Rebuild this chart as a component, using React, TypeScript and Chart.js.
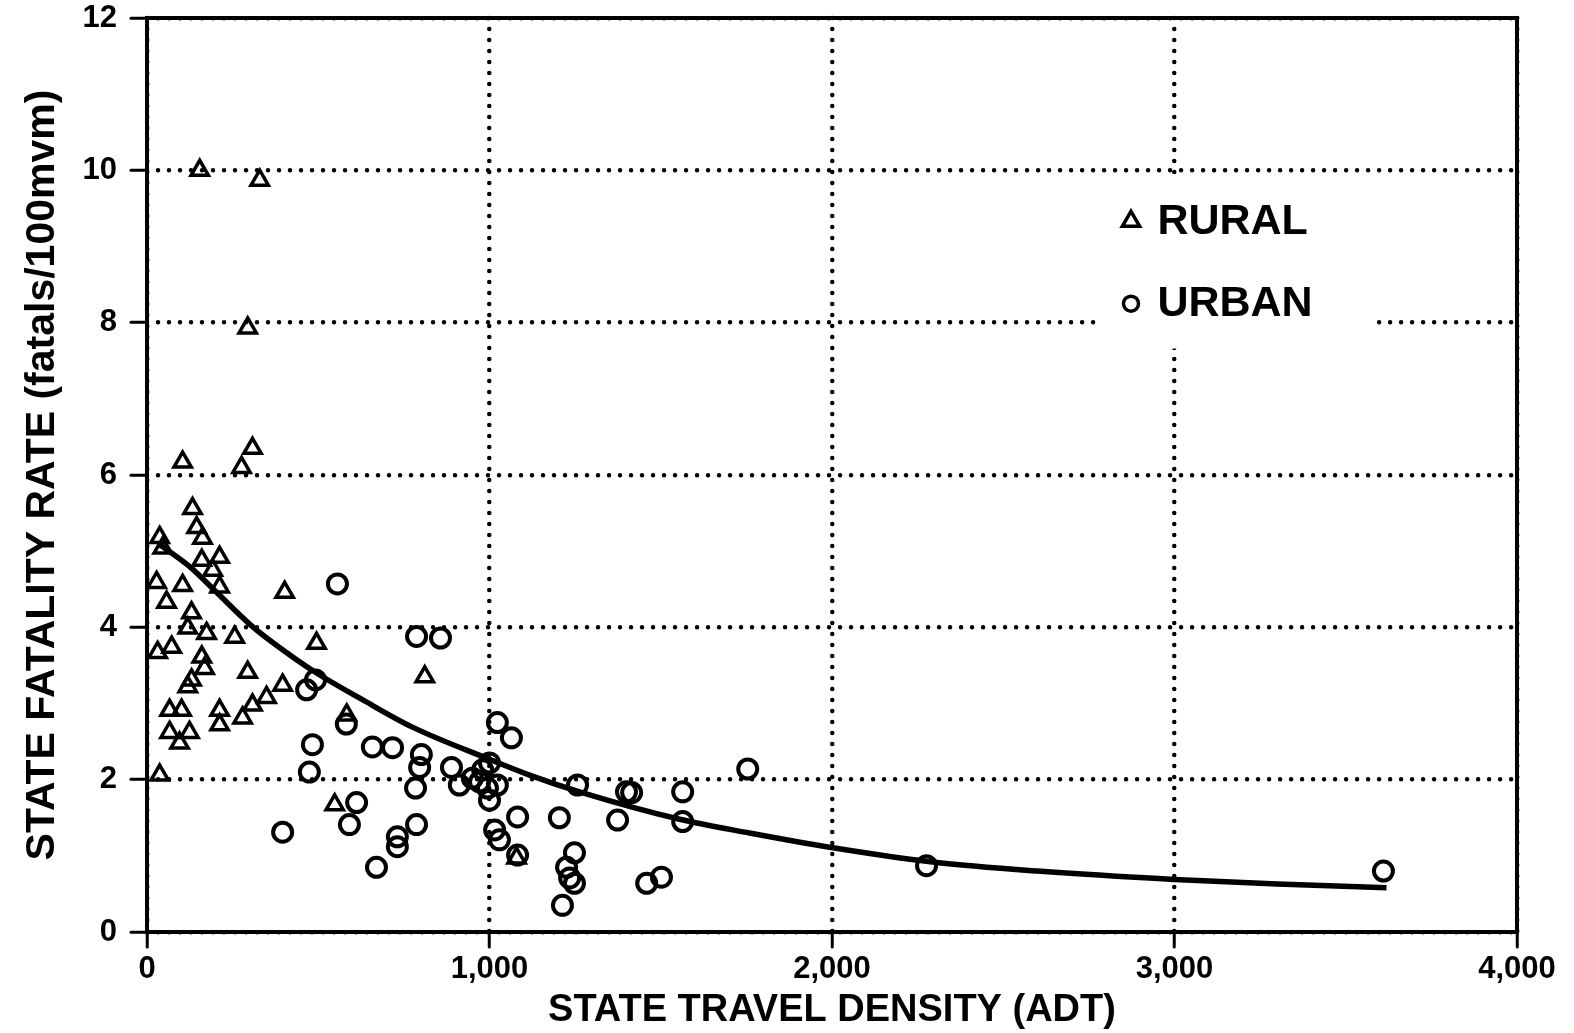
import React, { useEffect, useRef } from 'react';
import { Chart, registerables } from 'chart.js';

Chart.register(...registerables);

// ---- Data ----
const ruralX = [154, 329, 294, 308, 276, 104, 133, 145, 162, 37, 46, 212, 160, 192, 212, 28, 104, 57, 130, 119, 174, 256, 402, 495, 31, 72, 160, 168, 294, 130, 119, 396, 349, 308, 811, 66, 101, 212, 279, 66, 124, 95, 212, 37, 583, 548, 1079];
const ruralY = [10.0, 9.87, 7.93, 6.35, 6.10, 6.17, 5.56, 5.31, 5.17, 5.18, 5.04, 4.92, 4.88, 4.75, 4.53, 4.59, 4.55, 4.33, 4.19, 3.99, 3.92, 3.87, 4.46, 3.79, 3.67, 3.74, 3.61, 3.46, 3.41, 3.31, 3.22, 3.24, 3.08, 2.98, 3.35, 2.91, 2.91, 2.91, 2.81, 2.62, 2.62, 2.48, 2.72, 2.06, 2.85, 1.67, 0.97];

const urbanX = [556, 787, 857, 492, 466, 582, 483, 474, 658, 717, 801, 796, 784, 889, 912, 950, 980, 1000, 1023, 994, 1000, 971, 1023, 1064, 1082, 1204, 1257, 1400, 1415, 1564, 1374, 1564, 1248, 1225, 1248, 1234, 1213, 1459, 1502, 1015, 1029, 1082, 612, 591, 787, 731, 731, 670, 396, 1754, 2276, 3610];
const urbanY = [4.57, 3.88, 3.86, 3.31, 3.18, 2.73, 2.46, 2.10, 2.43, 2.42, 2.33, 2.16, 1.89, 2.16, 1.93, 2.02, 2.13, 2.22, 1.93, 1.89, 1.73, 1.97, 2.75, 2.55, 1.51, 1.50, 1.93, 1.84, 1.83, 1.84, 1.47, 1.45, 1.04, 0.85, 0.64, 0.71, 0.35, 0.64, 0.72, 1.34, 1.21, 1.01, 1.70, 1.41, 1.41, 1.25, 1.12, 0.85, 1.31, 2.14, 0.87, 0.80];

// fitted curve, points
const fitX = [36, 124, 203, 308, 407, 495, 629, 775, 993, 1117, 1263, 1555, 1759, 1998, 2293, 2600, 3000, 3300, 3619];
const fitY = [5.09, 4.80, 4.46, 4.01, 3.67, 3.40, 3.05, 2.69, 2.28, 2.06, 1.84, 1.48, 1.30, 1.11, 0.92, 0.80, 0.69, 0.63, 0.58];

const xTickValues = [0, 1000, 2000, 3000, 4000];
const xTickLabels = ['0', '1,000', '2,000', '3,000', '4,000'];
const yTickValues = [0, 2, 4, 6, 8, 10, 12];
const yTickLabels = ['0', '2', '4', '6', '8', '10', '12'];

const seriesLabels = ['RURAL', 'URBAN'];
const xTitle = 'STATE TRAVEL DENSITY (ADT)';
const yTitle = 'STATE FATALITY RATE (fatals/100mvm)';

const W = 1574;
const H = 1033;

export default function App() {
  const ref = useRef<HTMLCanvasElement>(null);

  useEffect(() => {
    const canvas = ref.current;
    if (!canvas) return;

    const roundCap = {
      id: 'roundCap',
      beforeDraw(chart: any) {
        chart.ctx.lineCap = 'round';
      },
    };

    const frame = {
      id: 'frame',
      beforeDatasetsDraw(chart: any) {
        const { ctx, chartArea: a } = chart;
        ctx.save();
        ctx.lineCap = 'butt';
        ctx.lineWidth = 4;
        ctx.strokeStyle = '#000';
        ctx.strokeRect(a.left, a.top, a.right - a.left, a.bottom - a.top);
        ctx.restore();
      },
    };

    const legendBox = {
      id: 'legendBox',
      beforeDatasetsDraw(chart: any) {
        const { ctx } = chart;
        const xs = chart.scales.x;
        const ys = chart.scales.y;
        const l = xs.getPixelForValue(2785);
        const r = xs.getPixelForValue(3580);
        const t = ys.getPixelForValue(9.92);
        const b = ys.getPixelForValue(7.66);
        ctx.save();
        ctx.fillStyle = '#fff';
        ctx.fillRect(l, t, r - l, b - t);

        const mx = xs.getPixelForValue(2873);
        const tx = xs.getPixelForValue(2950);
        const rowY = [ys.getPixelForValue(9.33), ys.getPixelForValue(8.25)];

        ctx.strokeStyle = '#000';
        ctx.lineWidth = 3.5;
        ctx.lineJoin = 'miter';
        // triangle
        const rt = 10;
        ctx.beginPath();
        ctx.moveTo(mx, rowY[0] - rt);
        ctx.lineTo(mx + rt * 0.866, rowY[0] + rt * 0.5);
        ctx.lineTo(mx - rt * 0.866, rowY[0] + rt * 0.5);
        ctx.closePath();
        ctx.stroke();
        // circle
        ctx.beginPath();
        ctx.arc(mx, rowY[1], 7.5, 0, Math.PI * 2);
        ctx.stroke();

        ctx.fillStyle = '#000';
        ctx.font = 'bold 43px "Liberation Sans", Arial, sans-serif';
        ctx.textBaseline = 'middle';
        ctx.textAlign = 'left';
        ctx.fillText(seriesLabels[0], tx, rowY[0] + 1);
        ctx.fillText(seriesLabels[1], tx, rowY[1] + 1);
        ctx.restore();
      },
    };

    const tickFont = { family: '"Liberation Sans", Arial, sans-serif', size: 31, weight: 'bold' as const };

    const chart = new Chart(canvas, {
      type: 'scatter',
      data: {
        datasets: [
          {
            type: 'line',
            label: 'fit',
            data: fitX.map((x, i) => ({ x, y: fitY[i] })),
            borderColor: '#000',
            borderWidth: 5.5,
            pointRadius: 0,
            cubicInterpolationMode: 'monotone',
            fill: false,
            showLine: true,
          } as any,
          {
            label: seriesLabels[0],
            data: ruralX.map((x, i) => ({ x, y: ruralY[i] })),
            pointStyle: 'triangle',
            pointRadius: 10,
            borderColor: '#000',
            backgroundColor: 'rgba(0,0,0,0)',
            borderWidth: 3.5,
          },
          {
            label: seriesLabels[1],
            data: urbanX.map((x, i) => ({ x, y: urbanY[i] })),
            pointStyle: 'circle',
            pointRadius: 9.5,
            borderColor: '#000',
            backgroundColor: 'rgba(0,0,0,0)',
            borderWidth: 4,
          },
        ],
      },
      options: {
        responsive: false,
        animation: false,
        devicePixelRatio: 1,
        layout: { padding: { top: 18, right: 57, left: 0, bottom: 0 } },
        plugins: {
          legend: { display: false },
          tooltip: { enabled: false },
        },
        scales: {
          x: {
            type: 'linear',
            min: 0,
            max: 4000,
            afterBuildTicks: (s: any) => {
              s.ticks = xTickValues.map((v) => ({ value: v }));
            },
            afterFit: (s: any) => {
              s.height = 101;
              s.paddingLeft = 0;
              s.paddingRight = 0;
            },
            ticks: {
              color: '#000',
              font: tickFont,
              padding: 4,
              maxRotation: 0,
              autoSkip: false,
              callback: (v: any) => {
                const i = xTickValues.indexOf(Number(v));
                return i >= 0 ? xTickLabels[i] : '';
              },
            },
            grid: {
              color: '#000',
              lineWidth: 4.5,
              drawTicks: true,
              tickLength: 15,
              tickWidth: 3,
              tickColor: '#000',
              tickBorderDash: [],
            } as any,
            border: { display: false, dash: [0.001, 11] } as any,
            title: {
              display: true,
              text: xTitle,
              color: '#000',
              font: { family: '"Liberation Sans", Arial, sans-serif', size: 38, weight: 'bold' },
              padding: { top: 0, bottom: 0 },
            },
          },
          y: {
            type: 'linear',
            min: 0,
            max: 12,
            afterBuildTicks: (s: any) => {
              s.ticks = yTickValues.map((v) => ({ value: v }));
            },
            afterFit: (s: any) => {
              s.width = 147;
              s.paddingTop = 0;
              s.paddingBottom = 0;
            },
            ticks: {
              color: '#000',
              font: tickFont,
              padding: 14,
              autoSkip: false,
              callback: (v: any) => {
                const i = yTickValues.indexOf(Number(v));
                return i >= 0 ? yTickLabels[i] : '';
              },
            },
            grid: {
              color: '#000',
              lineWidth: 4.5,
              drawTicks: true,
              tickLength: 16,
              tickWidth: 3,
              tickColor: '#000',
              tickBorderDash: [],
            } as any,
            border: { display: false, dash: [0.001, 11] } as any,
            title: {
              display: true,
              text: yTitle,
              color: '#000',
              font: { family: '"Liberation Sans", Arial, sans-serif', size: 41, weight: 'bold' },
              padding: { top: 18, bottom: 0 },
            },
          },
        },
      },
      plugins: [roundCap, legendBox, frame],
    } as any);

    return () => {
      chart.destroy();
    };
  }, []);

  return (
    <div style={{ position: 'absolute', left: 0, top: 0, width: W, height: H, background: '#fff' }}>
      <canvas ref={ref} width={W} height={H} style={{ width: W, height: H, display: 'block' }} />
    </div>
  );
}
